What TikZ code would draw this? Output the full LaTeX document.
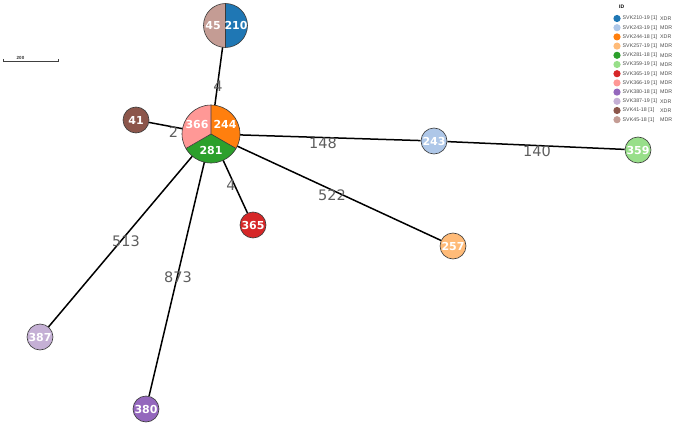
\documentclass[tikz,border=0pt]{standalone}
\usepackage{fontspec}
\setmainfont{DejaVu Sans}
\newfontfamily\legfont{Liberation Sans}
\definecolor{c210}{HTML}{1F77B4}
\definecolor{c243}{HTML}{AEC7E8}
\definecolor{c244}{HTML}{FF7F0E}
\definecolor{c257}{HTML}{FFBB78}
\definecolor{c281}{HTML}{2CA02C}
\definecolor{c359}{HTML}{98DF8A}
\definecolor{c365}{HTML}{D62728}
\definecolor{c366}{HTML}{FF9896}
\definecolor{c380}{HTML}{9467BD}
\definecolor{c387}{HTML}{C5B0D5}
\definecolor{c41}{HTML}{8C564B}
\definecolor{c45}{HTML}{C49C94}
\definecolor{lblgray}{HTML}{5E5E5E}
\definecolor{outline}{HTML}{3A3A3A}
\pgfdeclarelayer{bg}
\pgfsetlayers{bg,main}
\begin{document}
\begin{tikzpicture}[x=1pt,y=1pt,
  nd/.style={circle,draw=outline,line width=0.6pt,minimum size=26pt,inner sep=0pt,
    text=white,font=\fontsize{11}{12}\selectfont\bfseries},
  edge/.style={line width=1.5pt,black},
  elbl/.style={text=lblgray,font=\fontsize{14.5}{15}\selectfont,inner sep=0pt},
  inlbl/.style={text=white,font=\fontsize{11}{12}\selectfont\bfseries,inner sep=0pt},
  legtxt/.style={font=\legfont\fontsize{5.3}{6}\selectfont,text=black!70,inner sep=0pt,anchor=west}
]
\useasboundingbox (0,0) rectangle (677,424);

% pie nodes (shapes defined, filled below)
\node[circle,minimum size=58pt,inner sep=0pt] (C) at (211,290) {};
\node[circle,minimum size=44pt,inner sep=0pt] (T) at (225.5,398.5) {};

% simple nodes
\node[nd,fill=c41] (n41) at (136,304) {41};
\node[nd,fill=c243] (n243) at (434,283) {243};
\node[nd,fill=c359] (n359) at (638,274) {359};
\node[nd,fill=c365] (n365) at (253,199) {365};
\node[nd,fill=c257] (n257) at (453,178) {257};
\node[nd,fill=c387] (n387) at (40,87) {387};
\node[nd,fill=c380] (n380) at (146,15) {380};

% edges and their labels behind the nodes
\begin{pgfonlayer}{bg}
\draw[edge] (C.center) -- (T.center);
\draw[edge] (C.center) -- (n41);
\draw[edge] (C.center) -- (n243);
\draw[edge] (n243) -- (n359);
\draw[edge] (C.center) -- (n365);
\draw[edge] (C.center) -- (n257);
\draw[edge] (C.center) -- (n387);
\draw[edge] (C.center) -- (n380);
\node[elbl] (l1) at (218,338) {4};
\node[elbl] (l2) at (173.5,292) {2};
\node[elbl] (l3) at (323,281) {148};
\node[elbl] (l4) at (537,273) {140};
\node[elbl] (l5) at (231,239) {4};
\node[elbl] (l6) at (332,229) {522};
\node[elbl] (l7) at (126,183) {513};
\node[elbl] (l8) at (178,147) {873};
\end{pgfonlayer}

% center pie node
\fill[c244] (C.center) -- ++(90:29pt) arc[start angle=90,end angle=-30,radius=29pt] -- cycle;
\fill[c281] (C.center) -- ++(-30:29pt) arc[start angle=-30,end angle=-150,radius=29pt] -- cycle;
\fill[c366] (C.center) -- ++(210:29pt) arc[start angle=210,end angle=90,radius=29pt] -- cycle;
\draw[outline,line width=0.6pt] (C.center) -- ++(90:29pt) (C.center) -- ++(-30:29pt) (C.center) -- ++(210:29pt);
\draw[outline,line width=0.6pt] (C.center) circle[radius=29pt];
\node[inlbl] (t366) at ([shift={(-14,10)}]C.center) {366};
\node[inlbl] (t244) at ([shift={(14,10)}]C.center) {244};
\node[inlbl] (t281) at ([shift={(0,-16)}]C.center) {281};

% top pie node
\fill[c210] (T.center) -- ++(90:22pt) arc[start angle=90,end angle=-90,radius=22pt] -- cycle;
\fill[c45] (T.center) -- ++(90:22pt) arc[start angle=90,end angle=270,radius=22pt] -- cycle;
\draw[outline,line width=0.6pt] (T.north) -- (T.south);
\draw[outline,line width=0.6pt] (T.center) circle[radius=22pt];
\node[inlbl] (t45) at ([shift={(-12.5,0)}]T.center) {45};
\node[inlbl] (t210) at ([shift={(10.5,0)}]T.center) {210};

% scale bar
\coordinate (sbL) at (3,363);
\coordinate (sbR) at (58,363);
\draw[line width=0.8pt,black!75] ([yshift=2pt]sbL) -- (sbL) -- (sbR) -- ([yshift=2pt]sbR);
\node[font=\legfont\bfseries\fontsize{4.5}{5}\selectfont,inner sep=0pt,text=black!80] (sbt) at (20.5,366.5) {200};

% legend
\node[font=\legfont\bfseries\fontsize{5}{6}\selectfont,inner sep=0pt,anchor=west] (legid) at (619,417) {ID};
\foreach \i/\c/\n/\t in {0/c210/SVK210-19 [1]/XDR,1/c243/SVK243-19 [1]/MDR,2/c244/SVK244-18 [1]/XDR,
  3/c257/SVK257-19 [1]/MDR,4/c281/SVK281-18 [1]/MDR,5/c359/SVK359-19 [1]/MDR,6/c365/SVK365-19 [1]/MDR,
  7/c366/SVK366-19 [1]/MDR,8/c380/SVK380-18 [1]/MDR,9/c387/SVK387-19 [1]/XDR,10/c41/SVK41-18 [1]/XDR,
  11/c45/SVK45-18 [1]/MDR}{
  \fill[\c] (617,405.5-9.2*\i) circle[radius=3.6pt];
  \node[legtxt] (leg\i) at (622.5,405.5-9.2*\i) {\n};
  \node[legtxt] (legt\i) at (660,405.5-9.2*\i) {\t};
}
\end{tikzpicture}
\end{document}
